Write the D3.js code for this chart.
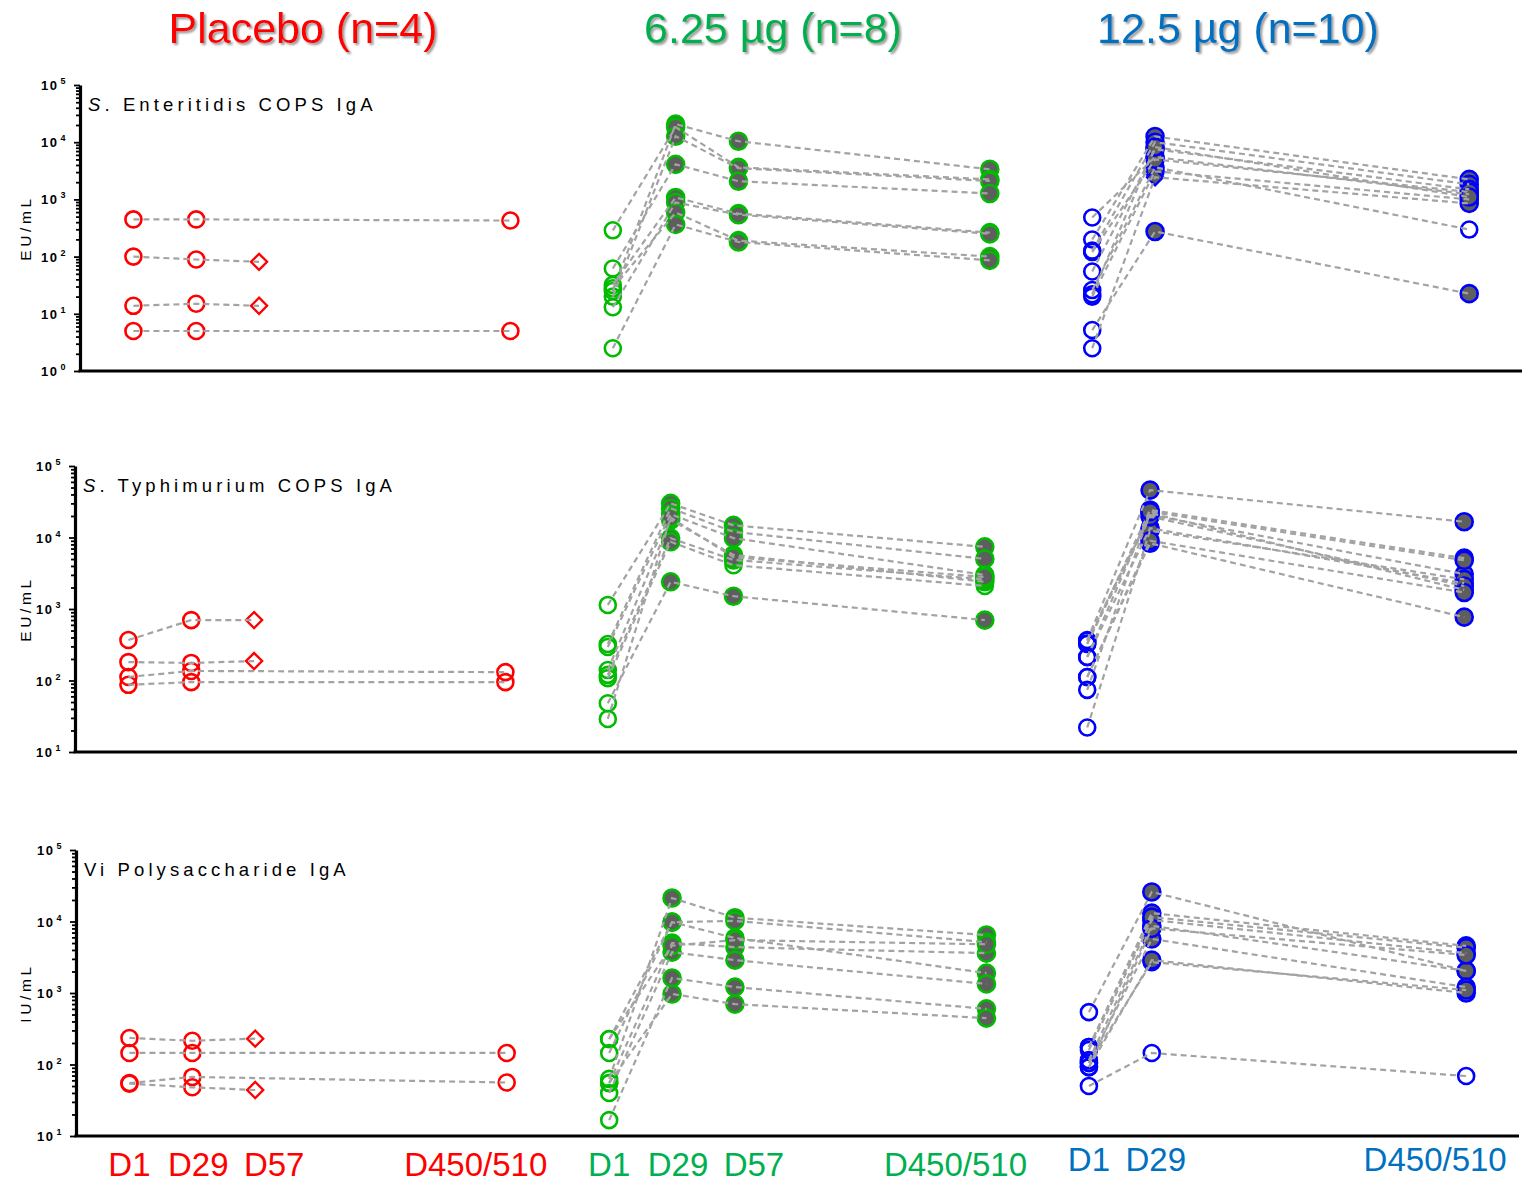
<!DOCTYPE html>
<html><head><meta charset="utf-8">
<script src="https://cdn.jsdelivr.net/npm/d3@7"></script>
<style>body{margin:0;background:#fff} svg{display:block}</style>
</head><body>
<svg id="chart" width="1529" height="1182"></svg>
<script>
// ---- categories ----
const dayLabels = ["D1", "D29", "D57", "D450/510"];
const groupNames = ["Placebo (n=4)", "6.25 µg (n=8)", "12.5 µg (n=10)"];
const panelTitles = [["S", ". Enteritidis COPS IgA"], ["S", ". Typhimurium COPS IgA"], ["", "Vi Polysaccharide IgA"]];
const unitLabels = ["EU/mL", "EU/mL", "IU/mL"];
const yDomains = [[1, 1e5], [10, 1e5], [10, 1e5]];
const bottomDays = [["D1", "D29", "D57", "D450/510"], ["D1", "D29", "D57", "D450/510"], ["D1", "D29", "D450/510"]];

// ---- series: one row per subject, columns D1, D29, D57, D450/510 ----
const enteritidisPlacebo = [
  [447, 447, null, 427],
  [100, 89, 81, null],
  [13.8, 15, 13.8, null],
  [5, 5, null, 5]
];
const enteritidisLow = [
  [25, 20700, 10400, 3360],
  [288, 18300, 3640, 2240],
  [20, 12700, 3500, 2100],
  [62, 4100, 2080, 1270],
  [32, 1080, 565, 263],
  [13, 885, 540, 250],
  [28, 590, 190, 100],
  [2.5, 365, 180, 86]
];
const enteritidisHigh = [
  [483, 5500, null, 1230],
  [199, 12600, null, 2240],
  [127, 10000, null, 1830],
  [55, 7500, null, 1500],
  [26, 3650, null, 297],
  [20, 3100, null, 1000],
  [5.2, 275, null, 22.5],
  [2.5, 2440, null, 850],
  [120, 5000, null, 1350],
  [22, 8200, null, 1100]
];
const typhimuriumPlacebo = [
  [368, 700, 700, null],
  [181, 176, 187, null],
  [112, 136, null, 131],
  [87, 95, null, 95]
];
const typhimuriumLow = [
  [1140, 30000, 14800, 7400],
  [324, 25700, 12000, 5020],
  [294, 21200, 9800, 3000],
  [140, 17600, 5700, 2400],
  [120, 9800, 4850, 2600],
  [108, 8700, 4100, 2100],
  [48, 2400, 1510, 700],
  [29, 19000, 5300, 2800]
];
const typhimuriumHigh = [
  [368, 46000, null, 16600],
  [324, 24300, null, 5140],
  [360, 20600, null, 3080],
  [213, 13500, null, 2300],
  [112, 8300, null, 770],
  [74, 22000, null, 1850],
  [22, 12500, null, 2600],
  [330, 19600, null, 2100],
  [213, 23000, null, 4800],
  [112, 9000, null, 1700]
];
const viPlacebo = [
  [235, 215, 230, null],
  [145, 145, null, 145],
  [55, 67, null, 56],
  [54, 48, 44, null]
];
const viLow = [
  [63, 21300, 11300, 6470],
  [145, 9800, 10200, 5150],
  [227, 9800, 5870, 1900],
  [55, 5000, 4380, 3610],
  [40, 3730, 2880, 1340],
  [16.7, 1620, 1210, 600],
  [55, 970, 700, 445],
  [227, 4600, 5500, 4800]
];
const viHigh = [
  [540, 25900, null, 2040],
  [176, 13100, null, 4560],
  [160, 10500, null, 3610],
  [115, 8700, null, 2040],
  [105, 5700, null, 1210],
  [92, 2880, null, 1000],
  [50, 145, null, 69],
  [176, 11500, null, 4300],
  [105, 2700, null, 1100],
  [92, 8000, null, 3400]
];

// [subject, day] points drawn unfilled after D1 in the vaccine arms
const enteritidisHighOpen = [[4, 3]];
const typhimuriumLowOpen = [[5, 2], [5, 3]];
const viHighOpen = [[6, 1], [6, 3], [8, 1]];
// [subject, day] points drawn as diamonds in the vaccine arms
const enteritidisHighDiamond = [[7, 1]];

const panelSeries = [
  [enteritidisPlacebo, enteritidisLow, enteritidisHigh],
  [typhimuriumPlacebo, typhimuriumLow, typhimuriumHigh],
  [viPlacebo, viLow, viHigh]
];
const panelOpen = [[[], [], enteritidisHighOpen], [[], typhimuriumLowOpen, []], [[], [], viHighOpen]];
const panelDiamond = [[[], [], enteritidisHighDiamond], [[], [], []], [[], [], []]];

// ---- layout ----
const frames = [
  { axisX: 80, right: 1522, top: 85, bottom: 371 },
  { axisX: 75, right: 1517, top: 466, bottom: 752 },
  { axisX: 76, right: 1519, top: 850, bottom: 1136 }
];
const daySlot = [0, 1, 2, 6];
const groupShift = [0, 7.63, 15.26];
const xDomain = [-0.85, 22.1];
const markerColor = ["#ff0000", "#00bb00", "#0000ff"];
const textColor = ["#ff0000", "#00b050", "#0070c0"];
const headerX = [303, 773, 1238];
const labelNudge = [0, 6, 19, -31];
const lineColor = "#a3a3a3";
const fillGray = "#5e5e5e";
const sans = "'Liberation Sans', Arial, sans-serif";

const svg = d3.select("#chart");

// drop shadow for group headers
const defs = svg.append("defs");
const f = defs.append("filter").attr("id", "shadow").attr("x", "-10%").attr("y", "-20%").attr("width", "130%").attr("height", "150%");
f.append("feDropShadow").attr("dx", 2).attr("dy", 2).attr("stdDeviation", 1.2).attr("flood-color", "#7f7f7f").attr("flood-opacity", 0.8);

// group headers
svg.selectAll("text.header").data(groupNames).join("text")
  .attr("class", "header")
  .attr("x", (d, i) => headerX[i]).attr("y", 43)
  .attr("text-anchor", "middle")
  .attr("font-family", sans)
  .attr("font-size", 43)
  .attr("fill", (d, i) => textColor[i])
  .attr("filter", "url(#shadow)")
  .text(d => d);

frames.forEach((fr, p) => {
  const g = svg.append("g");
  const x = d3.scaleLinear().domain(xDomain).range([fr.axisX, fr.right]);
  const y = d3.scaleLog().domain(yDomains[p]).range([fr.bottom, fr.top]);
  const px = (grp, day) => x(groupShift[grp] + daySlot[day]);

  // y axis with log minor ticks
  const ticks = y.ticks();
  const isMajor = v => Math.abs(Math.log10(v) - Math.round(Math.log10(v))) < 1e-9;
  const yAxis = d3.axisLeft(y).tickValues(ticks).tickFormat(() => "").tickSizeOuter(0);
  const ax = g.append("g").attr("transform", `translate(${fr.axisX},0)`).call(yAxis);
  ax.select(".domain").attr("stroke", "#000").attr("stroke-width", 3.2);
  ax.selectAll(".tick line")
    .attr("x2", d => isMajor(d) ? -6 : -4)
    .attr("stroke", "#000").attr("stroke-width", 1.8);

  // decade labels 10^n
  ticks.filter(isMajor).forEach(v => {
    const t = g.append("text")
      .attr("x", fr.axisX - 13).attr("y", y(v) + 5)
      .attr("text-anchor", "end")
      .attr("font-family", sans)
      .attr("font-weight", "bold").attr("font-size", 13)
      .attr("letter-spacing", 1.5);
    t.append("tspan").text("10");
    t.append("tspan").attr("dx", 2).attr("dy", -6).attr("font-size", 9).attr("font-weight", "bold")
      .text(String(Math.round(Math.log10(v))));
  });

  // x axis baseline
  g.append("line")
    .attr("x1", fr.axisX - 1.5).attr("x2", fr.right)
    .attr("y1", fr.bottom).attr("y2", fr.bottom)
    .attr("stroke", "#000").attr("stroke-width", 3.2);

  // unit label
  g.append("text")
    .attr("transform", `translate(31,${(fr.top + fr.bottom) / 2}) rotate(-90)`)
    .attr("text-anchor", "middle")
    .attr("font-family", sans)
    .attr("font-size", 15.5).attr("letter-spacing", 3.6)
    .text(unitLabels[p]);

  // panel title
  const tt = g.append("text")
    .attr("x", fr.axisX + 8).attr("y", fr.top + 26)
    .attr("font-family", sans)
    .attr("font-size", 18.5).attr("letter-spacing", 4.1);
  if (panelTitles[p][0]) tt.append("tspan").attr("font-style", "italic").text(panelTitles[p][0]);
  tt.append("tspan").text(panelTitles[p][1]);

  // markers
  panelSeries[p].forEach((rows, grp) => {
    const openSet = new Set(panelOpen[p][grp].map(d => d.join(",")));
    const diaSet = new Set(panelDiamond[p][grp].map(d => d.join(",")));
    const pts = [];
    rows.forEach((row, s) => row.forEach((v, d) => {
      if (v == null) return;
      const key = s + "," + d;
      const diamond = (grp === 0 && d === 2) || diaSet.has(key);
      const filled = grp > 0 && d > 0 && !openSet.has(key);
      pts.push({ v, d, s, diamond, filled });
    }));
    // open markers under filled ones
    pts.sort((a, b) => (a.filled - b.filled));
    const mg = g.append("g");
    mg.selectAll("circle").data(pts.filter(q => !q.diamond)).join("circle")
      .attr("cx", q => px(grp, q.d)).attr("cy", q => y(q.v))
      .attr("r", q => q.filled ? 8.5 : 8)
      .attr("fill", q => q.filled ? fillGray : "none")
      .attr("stroke", markerColor[grp]).attr("stroke-width", 2.6);
    mg.selectAll("path").data(pts.filter(q => q.diamond)).join("path")
      .attr("d", d3.symbol(d3.symbolSquare, 130))
      .attr("transform", q => `translate(${px(grp, q.d)},${y(q.v)}) rotate(45)`)
      .attr("fill", q => q.filled ? fillGray : "#fff")
      .attr("stroke", markerColor[grp]).attr("stroke-width", 2.3);
  });

  // dashed subject lines on top of the markers
  const line = d3.line().x(q => q[0]).y(q => q[1]);
  panelSeries[p].forEach((rows, grp) => {
    rows.forEach(row => {
      const pts = [];
      row.forEach((v, d) => { if (v != null) pts.push([px(grp, d), y(v)]); });
      g.append("path").attr("d", line(pts))
        .attr("fill", "none").attr("stroke", lineColor)
        .attr("stroke-width", 2.2).attr("stroke-dasharray", "6,4");
    });
  });

  // day labels under the last panel
  if (p === frames.length - 1) {
    bottomDays.forEach((days, grp) => {
      days.forEach(lbl => {
        const d = dayLabels.indexOf(lbl);
        g.append("text")
          .attr("x", px(grp, d) + labelNudge[d] + (grp === 2 && d === 1 ? -2 : 0))
          .attr("y", grp === 2 ? 1171 : 1176)
          .attr("text-anchor", "middle")
          .attr("font-family", sans)
          .attr("font-size", 33)
          .attr("fill", textColor[grp])
          .text(lbl);
      });
    });
  }
});
</script>
</body></html>
